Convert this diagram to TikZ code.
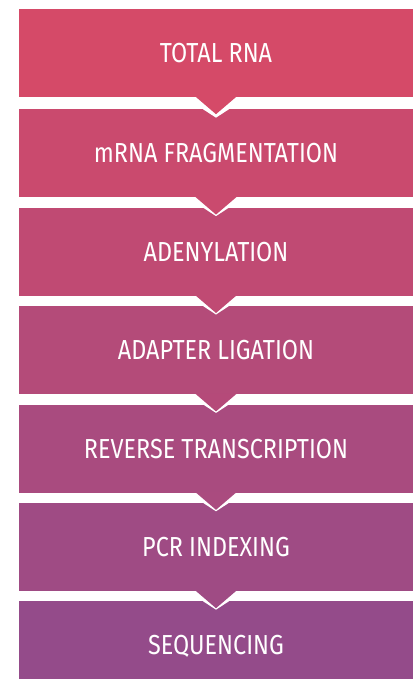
\documentclass[tikz,border=0pt]{standalone}
\usepackage{fontspec}
\setmainfont{Fira Sans}[FakeStretch=0.85]
\usetikzlibrary{positioning}

% shades running from the first step down to the last
\definecolor{toptone}{RGB}{213,74,104}
\definecolor{bottone}{RGB}{148,75,138}
\colorlet{c1}{toptone}
\colorlet{c2}{toptone!83!bottone}
\colorlet{c3}{toptone!67!bottone}
\colorlet{c4}{toptone!50!bottone}
\colorlet{c5}{toptone!33!bottone}
\colorlet{c6}{toptone!17!bottone}
\colorlet{c7}{bottone}

\tikzstyle{stage}=[rectangle, minimum width=394pt, minimum height=88pt,
  inner sep=0pt, text height=19pt, text depth=0pt, text=white,
  font=\fontsize{27.5}{30}\selectfont]

\begin{document}
\begin{tikzpicture}[x=1pt,y=-1pt,node distance=10pt]
  \useasboundingbox (0,0) rectangle (414,679);

  \node[stage, fill=c1] (total)   at (216,53)          {TOTAL RNA};
  \node[stage, fill=c2] (frag)    [below=12pt of total] {mRNA FRAGMENTATION};
  \node[stage, fill=c3] (adenyl)  [below=of frag]      {ADENYLATION};
  \node[stage, fill=c4] (adapter) [below=of adenyl]    {ADAPTER LIGATION};
  \node[stage, fill=c5] (rt)      [below=of adapter]   {REVERSE TRANSCRIPTION};
  \node[stage, fill=c6] (pcr)     [below=of rt]        {PCR INDEXING};
  \node[stage, fill=c7] (seq)     [below=of pcr]       {SEQUENCING};

  % notch in each step and the point hanging from the one above
  \foreach \a/\b/\c in {total/frag/c1, frag/adenyl/c2, adenyl/adapter/c3,
                        adapter/rt/c4, rt/pcr/c5, pcr/seq/c6} {
    \fill[white] (\b.north) ++(-13,0) -- ++(13,8.5) -- ++(13,-8.5) -- cycle;
    \fill[\c] (\a.south) ++(-21,-1) -- ++(21,18) -- ++(21,-18) -- cycle;
  }
\end{tikzpicture}
\end{document}
